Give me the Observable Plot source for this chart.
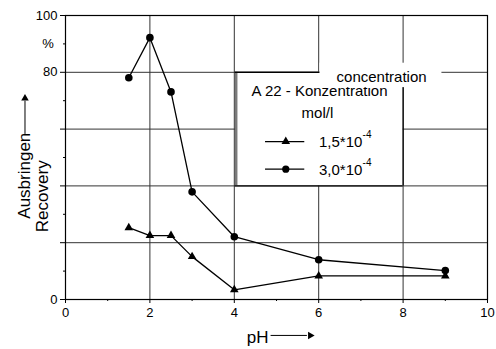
<!DOCTYPE html>
<html><head><meta charset="utf-8">
<script src="https://cdn.jsdelivr.net/npm/d3@7"></script>
<script src="https://cdn.jsdelivr.net/npm/@observablehq/plot@0.6"></script>
<style>html,body{margin:0;padding:0;background:#fff} #chart svg{display:block}</style>
</head><body><div id="chart"></div>
<script>
// ---- data ----
const ph = [1.5, 2, 2.5, 3, 4, 6, 9];
const recoveryLow  = [25.3, 22.5, 22.5, 15.1, 3.4, 8.3, 8.3];    // 1,5*10^-4 mol/l (triangles)
const recoveryHigh = [78.1, 92.2, 73.1, 37.9, 22.1, 14.0, 10.2]; // 3,0*10^-4 mol/l (circles)
const seriesLabels = ["1,5*10", "3,0*10"];
const seriesExponent = "-4";
const legendTitle = ["A 22 - Konzentration", "mol/l"];
const legendOverlay = "concentration";
const xTicks = [0, 2, 4, 6, 8, 10];
const xMinorTicks = [1, 3, 5, 7, 9];
const yTicks = [0, 20, 40, 60, 80, 100];
const yMinorTicks = [10, 30, 50, 70, 90];
const yLabelledTicks = [0, 80, 100];
const yUnit = "%";
const xTitle = "pH";
const yTitleDe = "Ausbringen";
const yTitleEn = "Recovery";

const low = ph.map((x, i) => ({x, y: recoveryLow[i]}));
const high = ph.map((x, i) => ({x, y: recoveryHigh[i]}));

const font = "'Liberation Sans', Arial, Helvetica, sans-serif";
const one = [0];

const chart = Plot.plot({
  width: 496, height: 349,
  marginLeft: 65, marginRight: 9, marginTop: 15, marginBottom: 50,
  x: {domain: [0, 10], axis: null},
  y: {domain: [0, 100], axis: null},
  style: {fontFamily: font, fontSize: "13px", background: "white", color: "black", overflow: "visible"},
  marks: [
    // grid
    Plot.ruleX([2, 4, 6, 8], {stroke: "#333", strokeWidth: 1}),
    Plot.ruleY([20, 40, 60, 80], {stroke: "#333", strokeWidth: 1}),
    Plot.frame({stroke: "black", strokeWidth: 1.2}),
    // axes
    Plot.axisX({ticks: xTicks, tickSize: 4, tickPadding: 4, tickFormat: d => String(d), label: null}),
    Plot.axisX({ticks: xMinorTicks, tickSize: 2, tickFormat: () => "", label: null}),
    Plot.axisY({ticks: yTicks, tickSize: 5, tickPadding: 3, tickFormat: d => yLabelledTicks.includes(d) ? String(d) : "", label: null}),
    Plot.axisY({ticks: yMinorTicks, tickSize: 2, tickFormat: () => "", label: null}),
    Plot.text([yUnit], {x: 0, y: 90, dx: -17.5, fontSize: 13, textAnchor: "middle"}),
    // legend box
    Plot.rect(one, {x1: 4.04, x2: 8, y1: 40, y2: 80, fill: "white"}),
    Plot.ruleX(one, {x: 4.045, y1: 40, y2: 80, stroke: "#7a7a7a", strokeWidth: 2.5}),
    Plot.ruleY(one, {y: 80, x1: 4.02, x2: 8, stroke: "black", strokeWidth: 1.6}),
    Plot.ruleX(one, {x: 8, y1: 40, y2: 80, stroke: "black", strokeWidth: 1.3}),
    Plot.ruleY(one, {y: 40, x1: 4.02, x2: 8, stroke: "black", strokeWidth: 1.3}),
    Plot.text([legendTitle[0]], {x: 6.02, y: 73.3, fontSize: 15, textAnchor: "middle"}),
    Plot.text([legendTitle[1]], {x: 5.97, y: 65.5, fontSize: 15, textAnchor: "middle"}),
    Plot.ruleY(one, {y: 55.6, x1: 4.74, x2: 5.67, stroke: "black", strokeWidth: 1.2}),
    Plot.dot(one, {x: 5.22, y: 55.6, symbol: "triangle", r: 3.2, fill: "black"}),
    Plot.ruleY(one, {y: 45.9, x1: 4.74, x2: 5.67, stroke: "black", strokeWidth: 1.2}),
    Plot.dot(one, {x: 5.22, y: 45.9, symbol: "circle", r: 3.6, fill: "black"}),
    Plot.text([seriesLabels[0]], {x: 6.007, y: 55.4, fontSize: 15, textAnchor: "start"}),
    Plot.text([seriesExponent], {x: 7.04, y: 57.9, fontSize: 10, textAnchor: "start"}),
    Plot.text([seriesLabels[1]], {x: 6.007, y: 45.6, fontSize: 15, textAnchor: "start"}),
    Plot.text([seriesExponent], {x: 7.04, y: 48.1, fontSize: 10, textAnchor: "start"}),
    // overlaid "concentration" label
    Plot.rect(one, {x1: 6.03, x2: 8.92, y1: 74.6, y2: 83.2, fill: "white"}),
    Plot.text([legendOverlay], {x: 7.49, y: 78.3, fontSize: 15, textAnchor: "middle"}),
    // data
    Plot.line(high, {x: "x", y: "y", stroke: "black", strokeWidth: 1.3}),
    Plot.line(low, {x: "x", y: "y", stroke: "black", strokeWidth: 1.3}),
    Plot.dot(high, {x: "x", y: "y", symbol: "circle", r: 3.8, fill: "black"}),
    Plot.dot(low, {x: "x", y: "y", symbol: "triangle", r: 3.2, fill: "black"}),
    // axis titles with arrows
    Plot.text([xTitle], {x: 4.553, y: -13.5, fontSize: 17, textAnchor: "middle"}),
    Plot.link(one, {x1: 4.86, x2: 5.72, y1: -12.65, y2: -12.65, stroke: "black", strokeWidth: 1}),
    Plot.dot(one, {x: 5.80, y: -12.65, symbol: "triangle", r: 2.8, fill: "black", rotate: 90}),
    Plot.text([yTitleDe], {x: -0.974, y: 28.45, fontSize: 17, rotate: -90, textAnchor: "start"}),
    Plot.link(one, {x1: -0.96, x2: -0.96, y1: 58.3, y2: 70.0, stroke: "black", strokeWidth: 1}),
    Plot.dot(one, {x: -0.96, y: 70.8, symbol: "triangle", r: 2.8, fill: "black"}),
    Plot.text([yTitleEn], {x: -0.555, y: 36.35, fontSize: 17, rotate: -90, textAnchor: "middle"})
  ]
});
document.getElementById("chart").appendChild(chart);
</script>
</body></html>
